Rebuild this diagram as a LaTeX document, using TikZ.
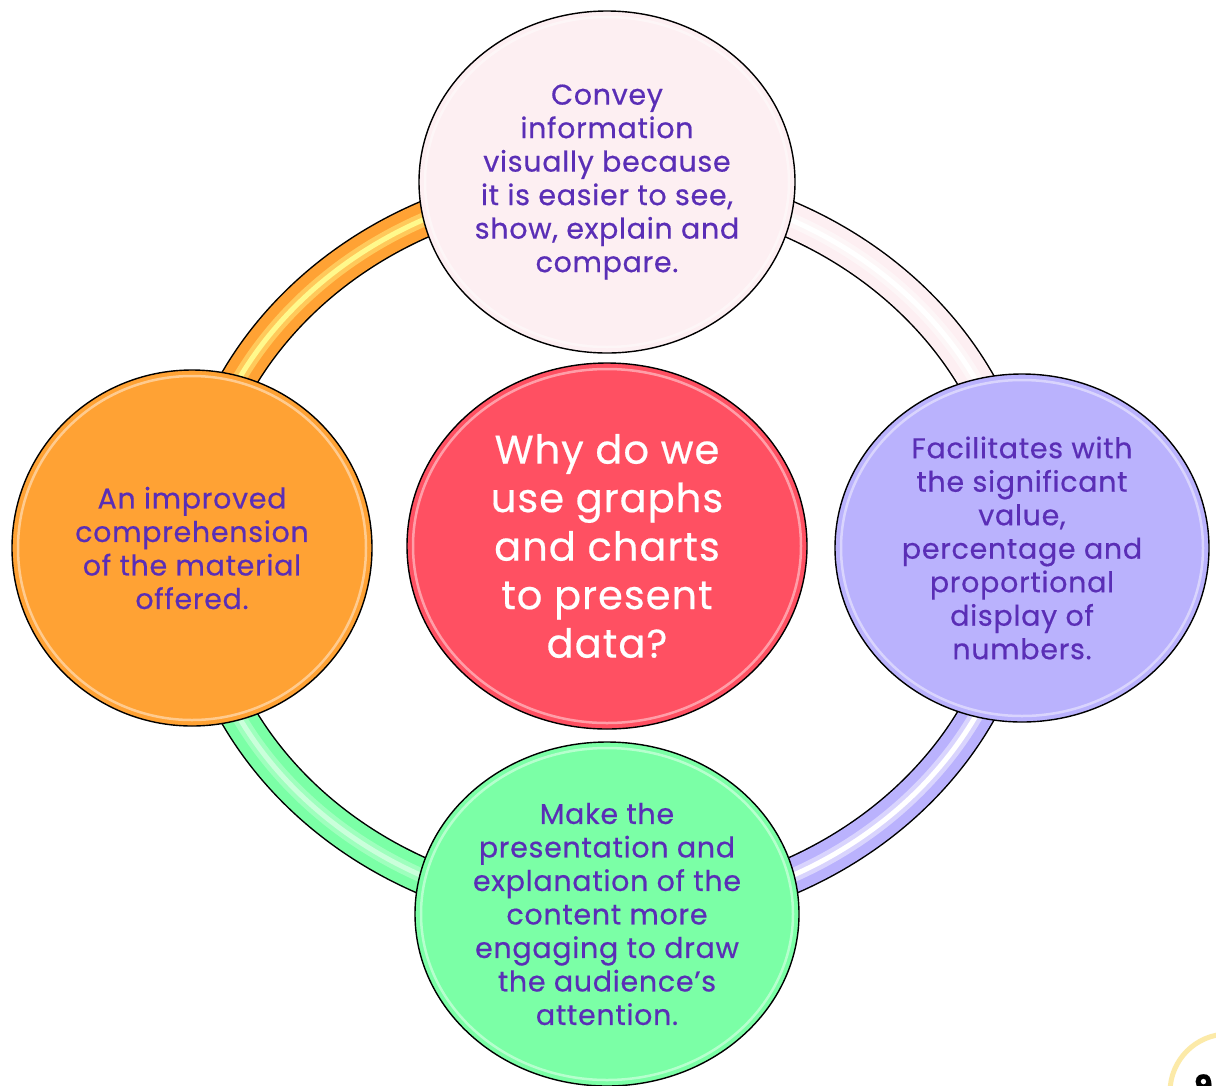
\documentclass[tikz,border=0pt]{standalone}
\usepackage{fontspec}
\setmainfont{Poppins}[LetterSpace=2.5, FakeBold=0.5]
\usetikzlibrary{shapes.geometric}

\definecolor{txtpurple}{HTML}{5A2EB6}
\definecolor{cTop}{HTML}{FDEFF2}
\definecolor{cMid}{HTML}{FF5062}
\definecolor{cLeft}{HTML}{FFA234}
\definecolor{cRight}{HTML}{BAB2FD}
\definecolor{cBot}{HTML}{7BFFA6}
\definecolor{cBadge}{HTML}{FCEAA8}

\tikzset{
  bubble/.style={ellipse, draw=black, line width=1.4pt, inner sep=0pt,
    align=center, text=txtpurple, font=\fontsize{28.5}{33.5}\selectfont},
  hub/.style={bubble, text=white, font=\fontsize{40}{48.5}\selectfont},
  ringedge/.style={line width=37pt, draw=black},
  ringbody/.style={line width=34pt},
  ringsheen/.style={line width=5pt},
  gloss/.style={draw=white, line width=2.5pt, opacity=0.45}
}

% one quarter of the ring between two bubbles
\newcommand\ringquarter[6]{%
  \draw[ringedge] (#1.center) arc[start angle=#3, end angle=#4, x radius=415, y radius=366];
  \draw[ringbody, draw=#5] (#1.center) arc[start angle=#3, end angle=#4, x radius=415, y radius=366];
  \draw[line width=14pt, draw=#6, opacity=0.45] (#1.center) arc[start angle=#3, end angle=#4, x radius=415, y radius=366];
  \draw[ringsheen, draw=#6] (#1.center) arc[start angle=#3, end angle=#4, x radius=415, y radius=366];
}

\begin{document}
\begin{tikzpicture}[x=1pt, y=-1pt]
\useasboundingbox (0,0) rectangle (1216,1085);
\fill[white] (0,0) rectangle (1216,1085);

% anchor points of the four outer bubbles on the ring ellipse
\coordinate (pL) at (192,548);
\coordinate (pT) at (607,182);
\coordinate (pR) at (1022,548);
\coordinate (pB) at (607,914);

% ring segments
\ringquarter{pL}{pT}{180}{270}{cLeft}{yellow!45!white}
\ringquarter{pT}{pR}{270}{360}{cTop}{white}
\ringquarter{pR}{pB}{0}{90}{cRight}{white}
\ringquarter{pB}{pL}{90}{180}{cBot}{white!60!cBot}

% bubbles
\node[bubble, fill=cTop, minimum width=376pt, minimum height=342pt] (T) at (pT)
  {Convey\\information\\visually because\\it is easier to see,\\show, explain and\\compare.};
\node[bubble, fill=cLeft, minimum width=360pt, minimum height=356pt] (L) at (pL)
  {An improved\\comprehension\\of the material\\offered.};
\node[bubble, fill=cRight, minimum width=374pt, minimum height=348pt] (R) at (pR)
  {Facilitates with\\the significant\\value,\\percentage and\\proportional\\display of\\numbers.};
\node[bubble, fill=cBot, minimum width=384pt, minimum height=344pt] (B) at (pB)
  {Make the\\presentation and\\explanation of the\\content more\\engaging to draw\\the audience\char"27 s\\attention.};
\node[hub, fill=cMid, minimum width=400pt, minimum height=366pt] (C) at (607,546)
  {Why do we\\use graphs\\and charts\\to present\\data?};

% glossy inner rims
\draw[gloss] (T.center) ellipse[x radius=182, y radius=165];
\draw[gloss] (L.center) ellipse[x radius=174, y radius=172];
\draw[gloss] (R.center) ellipse[x radius=181, y radius=168];
\draw[gloss] (B.center) ellipse[x radius=186, y radius=166];
\draw[gloss] (C.center) ellipse[x radius=194, y radius=177];

% corner badge
\draw[cBadge, line width=5pt] (1228,1092) circle[radius=58];
\node[font=\bfseries\fontsize{30}{30}\selectfont, text=black, anchor=north west, inner sep=0pt] (badge) at (1194,1074) {9};
\end{tikzpicture}
\end{document}
